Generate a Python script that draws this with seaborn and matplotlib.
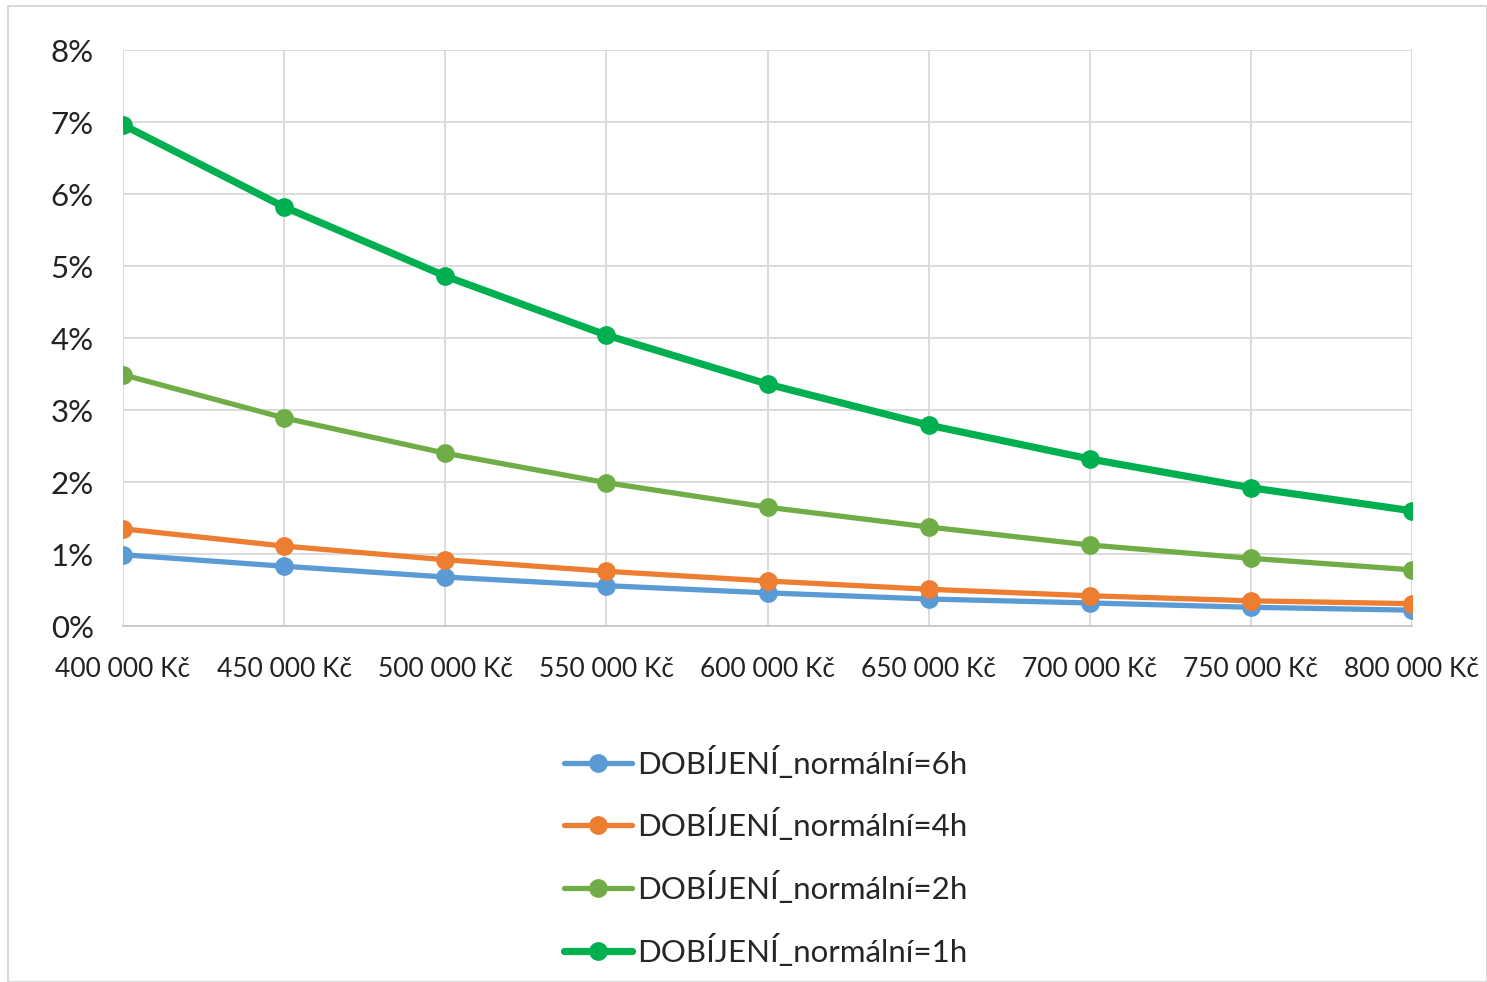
import matplotlib
matplotlib.use("Agg")
import matplotlib.pyplot as plt
import seaborn as sns
import pandas as pd
from matplotlib.patches import Rectangle
from matplotlib.ticker import FuncFormatter

categories = ["400 000 Kč", "450 000 Kč", "500 000 Kč", "550 000 Kč", "600 000 Kč",
              "650 000 Kč", "700 000 Kč", "750 000 Kč", "800 000 Kč"]
series_names = ["DOBÍJENÍ_normální=6h", "DOBÍJENÍ_normální=4h",
                "DOBÍJENÍ_normální=2h", "DOBÍJENÍ_normální=1h"]
vals_6h = [0.99, 0.83, 0.68, 0.56, 0.46, 0.375, 0.32, 0.26, 0.22]
vals_4h = [1.35, 1.11, 0.92, 0.76, 0.625, 0.51, 0.42, 0.35, 0.31]
vals_2h = [3.49, 2.89, 2.40, 1.99, 1.65, 1.375, 1.125, 0.94, 0.78]
vals_1h = [6.96, 5.82, 4.86, 4.04, 3.36, 2.79, 2.32, 1.92, 1.60]
yticks = [0, 1, 2, 3, 4, 5, 6, 7, 8]

colors = ["#5B9BD5", "#ED7D31", "#70AD47", "#00B050"]
widths = [3.8, 3.8, 3.8, 5.2]

sns.set_theme(style="white")
plt.rcParams['font.family'] = ['Lato', 'DejaVu Sans']

rows = []
for name, vals in zip(series_names, [vals_6h, vals_4h, vals_2h, vals_1h]):
    for i, v in enumerate(vals):
        rows.append({"x": i, "y": v, "series": name})
df = pd.DataFrame(rows)

fig = plt.figure(figsize=(14.87, 9.82), dpi=100)
ax = fig.add_axes([123/1487, 1 - 626/982, (1412 - 123)/1487, (626 - 50)/982])

for name, c, lw in zip(series_names, colors, widths):
    sub = df[df["series"] == name]
    sns.lineplot(data=sub, x="x", y="y", ax=ax, color=c, linewidth=lw,
                 marker="o", markersize=13.5, markeredgewidth=0, label=name,
                 sort=False, zorder=3)

ax.set_xlim(0, len(categories) - 1)
ax.set_ylim(0, 8)
ax.set_xticks(range(len(categories)))
ax.set_xticklabels(categories, fontsize=19, color="#222222")
ax.set_yticks(yticks)
ax.yaxis.set_major_formatter(FuncFormatter(lambda v, p: f"{int(v)}%"))
ax.tick_params(axis="y", labelsize=22.5, colors="#222222", length=0, pad=21)
ax.tick_params(axis="x", length=0, pad=22)
ax.grid(True, color="#d9d9d9", linewidth=1.3)
ax.set_xlabel("")
ax.set_ylabel("")
for s in ["top", "right", "left"]:
    ax.spines[s].set_visible(False)
ax.spines["bottom"].set_color("#c8c8c8")
ax.spines["bottom"].set_linewidth(1.3)
ax.legend_.remove()

handles, labels = ax.get_legend_handles_labels()
leg = fig.legend(handles, labels, loc="upper left",
                 bbox_to_anchor=(551/1487, 1 - 733/982), frameon=False,
                 fontsize=22.5, handlelength=2.2, labelspacing=0.95,
                 handletextpad=0.15, borderaxespad=0)

fig.patches.append(Rectangle((8/1487, 0), 1 - 8/1487, 1 - 6/982,
                             transform=fig.transFigure, fill=False,
                             edgecolor="#d9d9d9", linewidth=1.5))

fig.savefig("out.png", dpi=100, facecolor="white")
